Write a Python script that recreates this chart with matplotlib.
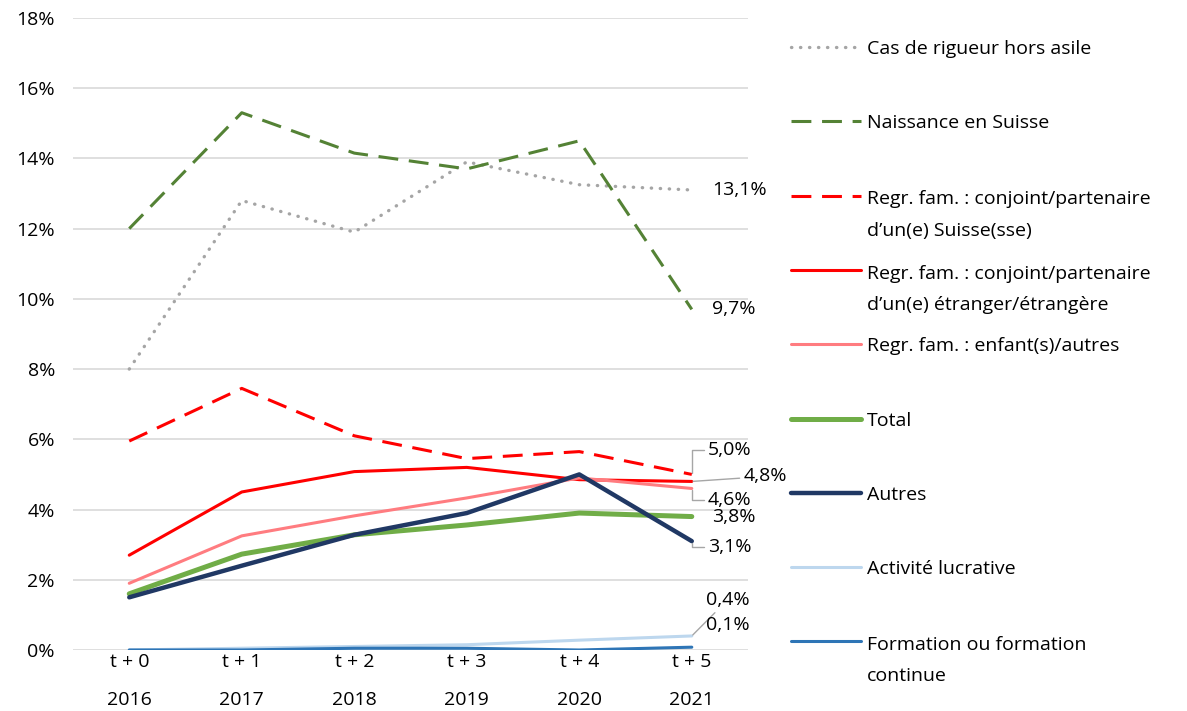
import matplotlib.pyplot as plt
from matplotlib.lines import Line2D

plt.rcParams["font.family"] = ["Open Sans", "DejaVu Sans"]

years = ["2016", "2017", "2018", "2019", "2020", "2021"]
periods = ["t + 0", "t + 1", "t + 2", "t + 3", "t + 4", "t + 5"]

cas_rigueur = [8.0, 12.8, 11.9, 13.9, 13.25, 13.1]
naissance = [12.0, 15.3, 14.15, 13.7, 14.5, 9.7]
conjoint_suisse = [5.95, 7.45, 6.1, 5.45, 5.65, 5.0]
conjoint_etranger = [2.7, 4.5, 5.08, 5.2, 4.85, 4.8]
enfants = [1.9, 3.25, 3.82, 4.33, 4.9, 4.6]
total = [1.6, 2.73, 3.28, 3.56, 3.9, 3.8]
autres = [1.5, 2.4, 3.28, 3.9, 5.0, 3.1]
activite = [0.0, 0.05, 0.1, 0.15, 0.28, 0.4]
formation = [0.0, 0.0, 0.05, 0.05, 0.0, 0.08]

end_labels = ["13,1%", "9,7%", "5,0%", "4,8%", "4,6%", "3,8%", "3,1%", "0,4%", "0,1%"]

series = [
    ("Cas de rigueur hors asile", cas_rigueur, "#A5A5A5", 2.4, (0, (0.1, 2.6))),
    ("Naissance en Suisse", naissance, "#548235", 2.2, (0, (6.5, 3.5))),
    ("Regr. fam. : conjoint/partenaire\nd\u2019un(e) Suisse(sse)", conjoint_suisse, "#FF0000", 2.2, (0, (6.5, 3.5))),
    ("Regr. fam. : conjoint/partenaire\nd\u2019un(e) \u00e9tranger/\u00e9trang\u00e8re", conjoint_etranger, "#FF0000", 2.2, "-"),
    ("Regr. fam. : enfant(s)/autres", enfants, "#FF7C80", 2.2, "-"),
    ("Total", total, "#70AD47", 3.6, "-"),
    ("Autres", autres, "#203864", 3.2, "-"),
    ("Activit\u00e9 lucrative", activite, "#BDD7EE", 2.2, "-"),
    ("Formation ou formation\ncontinue", formation, "#2E75B6", 2.2, "-"),
]

# label offsets (pixels) from the last point, and the leader style (None = no leader)
label_offsets = [(20, 0), (20, 0), (16, 24), (52, 5), (16, -12), (20, 0), (16, -6), (14, 36), (14, 22)]
elbow = "angle,angleA=0,angleB=90,rad=0"
leaders = [None, None, elbow, "arc3", elbow, None, elbow, "arc3", None]

fs = 14

fig = plt.figure(figsize=(11.87, 7.11), dpi=100)
ax = fig.add_axes([0.0615, 0.0858, 0.5687, 0.889])

x = list(range(len(years)))
for (label, values, color, lw, ls), text, off, lead in zip(series, end_labels, label_offsets, leaders):
    ax.plot(x, values, color=color, lw=lw, ls=ls, solid_capstyle="round",
            dash_capstyle="round" if label.startswith("Cas") else "butt")
    arrow = None
    if lead:
        arrow = dict(arrowstyle="-", color="#A6A6A6", lw=1, shrinkA=1, shrinkB=1, connectionstyle=lead)
    ax.annotate(text, xy=(x[-1], values[-1]), xytext=off, textcoords="offset pixels",
                ha="left", va="center", fontsize=fs, color="#000000", arrowprops=arrow)

ax.set_xlim(-0.5, 5.5)
ax.set_ylim(0, 18)
ax.set_yticks(range(0, 19, 2))
ax.set_yticklabels([f"{v}%" for v in range(0, 19, 2)], fontsize=fs)
ax.set_xticks(x)
ax.set_xticklabels([f"{p}\n{y}" for p, y in zip(periods, years)], fontsize=fs, linespacing=2.45)
ax.tick_params(length=0, pad=2)
ax.tick_params(axis="y", pad=13)
ax.grid(axis="y", color="#D9D9D9", lw=1.2)
ax.set_axisbelow(True)
for s in ax.spines.values():
    s.set_visible(False)

# legend on the right, one slot per entry; first text line sits on the handle
y0, step, line_h = 1 - 47 / 711, 74.3 / 711, 33 / 711
for i, (label, values, color, lw, ls) in enumerate(series):
    yy = y0 - i * step
    fig.add_artist(Line2D([0.666, 0.725], [yy, yy], transform=fig.transFigure, color=color, lw=lw, ls=ls,
                          solid_capstyle="round",
                          dash_capstyle="round" if label.startswith("Cas") else "butt"))
    extra = label.count("\n")
    fig.text(0.73, yy - 7 / 711 - extra * line_h, label, fontsize=fs, va="baseline", ha="left",
             linespacing=1.95)

fig.savefig("out.png", dpi=100)
